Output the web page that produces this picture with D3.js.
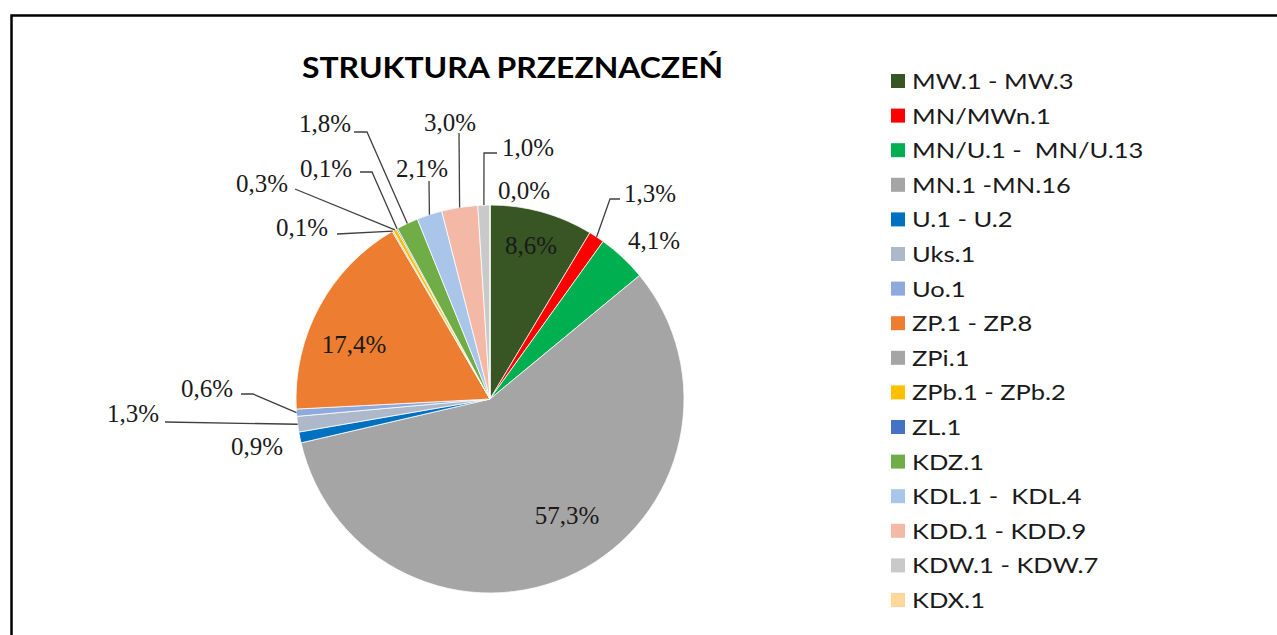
<!DOCTYPE html>
<html>
<head>
<meta charset="utf-8">
<script src="https://cdn.jsdelivr.net/npm/d3@7"></script>
<style>
  body { margin: 0; background: #ffffff; }
  svg { display: block; }
</style>
</head>
<body>
<div id="chart"></div>
<script>
// categories, in pie order (clockwise from 12 o'clock)
var categories = ["MW.1 - MW.3", "MN/MWn.1", "MN/U.1 -  MN/U.13", "MN.1 -MN.16", "U.1 - U.2",
    "Uks.1", "Uo.1", "ZP.1 - ZP.8", "ZPi.1", "ZPb.1 - ZPb.2", "ZL.1", "KDZ.1",
    "KDL.1 -  KDL.4", "KDD.1 - KDD.9", "KDW.1 - KDW.7", "KDX.1"];
var shares = [8.6, 1.3, 4.1, 57.3, 0.9, 1.3, 0.6, 17.4, 0.1, 0.3, 0.1, 1.8, 2.1, 3.0, 1.0, 0.0];
var labels = ["8,6%", "1,3%", "4,1%", "57,3%", "0,9%", "1,3%", "0,6%", "17,4%", "0,1%", "0,3%",
    "0,1%", "1,8%", "2,1%", "3,0%", "1,0%", "0,0%"];
var colors = ["#375623", "#ff0000", "#00b050", "#a5a5a5", "#0070c0", "#adb9ca", "#8ea9db", "#ed7d31",
    "#a5a5a5", "#ffc000", "#4472c4", "#70ad47", "#a9c5ea", "#f4b9a6", "#c9c9c9", "#ffd79b"];

// label placement (text centre) and leader line start / elbow points, by slice
var labelPos = [[531, 245], [650, 193], [654, 240], [567, 515], [257, 446], [133, 413], [207, 388],
    [354, 344], [302, 227], [262, 183], [326, 168], [325, 123], [422, 168], [450, 122], [528, 147], [524, 190]];
var leaders = [null, [[620, 199], [610, 199]], null, null, null, [[165, 422]], [[241, 394], [253, 394]],
    null, [[337, 234]], [[295, 189]], [[360, 172], [372, 172]], [[354, 132], [367, 132]],
    [[429, 181]], [[459, 133]], [[497, 153], [484, 153]], null];

var W = 1277, H = 635;
var cx = 490, cy = 399, R = 194;

var svg = d3.select("#chart").append("svg")
    .attr("width", W)
    .attr("height", H);

svg.append("rect").attr("width", W).attr("height", H).attr("fill", "#ffffff");

// outer frame (only top and left edges are visible in the window)
svg.append("path")
    .attr("d", "M11.5," + (H + 5) + "V15.5H" + (W + 5))
    .attr("fill", "none")
    .attr("stroke", "#000000")
    .attr("stroke-width", 2.5);

// title, slightly stretched horizontally like the original
svg.append("g")
    .attr("transform", "translate(512.5,78) scale(1.1,1)")
    .append("text")
    .attr("text-anchor", "middle")
    .attr("font-family", "Lato, 'Open Sans', sans-serif")
    .attr("font-weight", "bold")
    .attr("font-size", 29)
    .attr("fill", "#000000")
    .text("STRUKTURA PRZEZNACZEŃ");

var pie = d3.pie().sort(null).value(function(d) { return d; });
var arcs = pie(shares);
var arc = d3.arc().innerRadius(0).outerRadius(R);

var g = svg.append("g").attr("transform", "translate(" + cx + "," + cy + ")");

g.selectAll("path.slice")
    .data(arcs)
    .enter().append("path")
    .attr("class", "slice")
    .attr("d", arc)
    .attr("fill", function(d, i) { return colors[i]; })
    .attr("stroke", "#ffffff")
    .attr("stroke-width", 0.75);

// leader lines: from label end, via elbow, to slice edge mid point
arcs.forEach(function(d, i) {
    if (!leaders[i]) return;
    var a = (d.startAngle + d.endAngle) / 2;
    var edge = [cx + R * Math.sin(a), cy - R * Math.cos(a)];
    var pts = leaders[i].concat([edge]);
    svg.append("path")
        .attr("d", d3.line()(pts))
        .attr("fill", "none")
        .attr("stroke", "#404040")
        .attr("stroke-width", 1.3);
});

svg.selectAll("text.pct")
    .data(labels)
    .enter().append("text")
    .attr("class", "pct")
    .attr("x", function(d, i) { return labelPos[i][0]; })
    .attr("y", function(d, i) { return labelPos[i][1]; })
    .attr("dy", "0.35em")
    .attr("text-anchor", "middle")
    .attr("font-family", "'Liberation Serif', 'Times New Roman', serif")
    .attr("font-size", 25)
    .attr("fill", "#1a1a1a")
    .text(function(d) { return d; });

// legend
var legendY = d3.scalePoint().domain(d3.range(categories.length)).range([81, 600]);
var legend = svg.selectAll("g.legend-item")
    .data(categories)
    .enter().append("g")
    .attr("class", "legend-item")
    .attr("transform", function(d, i) { return "translate(891," + legendY(i) + ")"; });

legend.append("rect")
    .attr("x", 0)
    .attr("y", -7)
    .attr("width", 14)
    .attr("height", 14)
    .attr("fill", function(d, i) { return colors[i]; });

legend.append("g")
    .attr("transform", "translate(21,0) scale(1.16,1)")
    .append("text")
    .attr("dy", "0.36em")
    .attr("font-family", "Lato, 'Open Sans', sans-serif")
    .attr("font-size", 22)
    .attr("fill", "#1a1a1a")
    .style("white-space", "pre")
    .text(function(d) { return d; });
</script>
</body>
</html>
